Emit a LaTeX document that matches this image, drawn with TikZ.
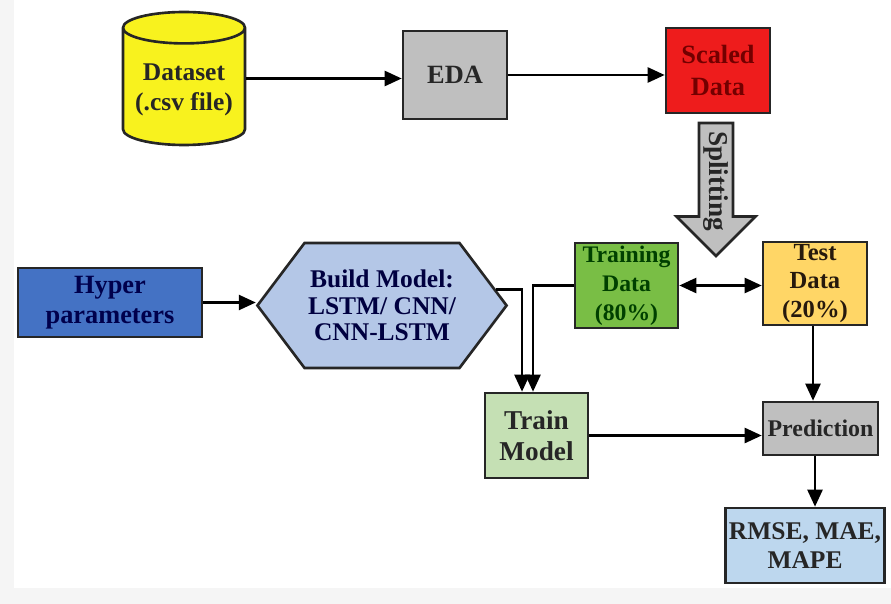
\documentclass[tikz,border=0pt]{standalone}
\usepackage{fontspec}
\setmainfont{Liberation Serif}
\usepackage{tikz}
\usetikzlibrary{arrows.meta,positioning,shapes.geometric,shapes.arrows,shapes.symbols}

\definecolor{dsyellow}{HTML}{F8F21E}
\definecolor{edagray}{HTML}{BFBFBF}
\definecolor{scalered}{HTML}{EE1C1C}
\definecolor{traingreen}{HTML}{79BE45}
\definecolor{testorange}{HTML}{FFD666}
\definecolor{hyperblue}{HTML}{4472C4}
\definecolor{buildblue}{HTML}{B4C7E7}
\definecolor{modelgreen}{HTML}{C5E0B4}
\definecolor{metricblue}{HTML}{BDD7EE}

\tikzset{
  box/.style={draw=black!85, line width=1.5pt, align=center, inner sep=2pt,
    font=\bfseries\fontsize{14.5}{17}\selectfont, text=black!85},
  flow/.style={line width=1.4pt, -{Triangle[length=3.4mm,width=3mm]}},
}

\begin{document}
\begin{tikzpicture}[x=0.02cm,y=-0.02cm]
	  % Frame of the picture
	  \useasboundingbox (0,0) rectangle (891,604);
	  \fill [black!4] (0,0) rectangle (891,604);
	  \fill [white] (14,0) rectangle (891,588);
	  % Top row
	  \node [box, cylinder, shape border rotate=90, aspect=0.3, fill=dsyellow,
	      minimum width=2.44cm, minimum height=2.66cm, anchor=shape center] (data) at (184,78.5)
	      {Dataset\\(.csv file)};
	  \node [box, fill=edagray, minimum width=2.08cm, minimum height=1.76cm,
	      font=\bfseries\fontsize{15}{18}\selectfont] (eda) at (455,75) {EDA};
	  \node [box, fill=scalered, minimum width=2.08cm, minimum height=1.70cm,
	      text=red!45!black, font=\bfseries\fontsize{15}{18}\selectfont]
	      (scaled) at (718,70.5) {Scaled\\Data};
	  % Splitting arrow
	  \node [box, single arrow, rotate=-90, fill=edagray, single arrow head extend=0.41cm,
	      minimum width=1.58cm, minimum height=2.66cm, inner sep=1pt,
	      single arrow head indent=0pt, font=\bfseries\fontsize{15.5}{18}\selectfont]
	      (split) at (716,181) {Splitting};
	  % Middle row
	  \node [box, fill=traingreen, minimum width=2.06cm, minimum height=1.70cm,
	      text=green!25!black, inner sep=0pt, font=\bfseries\fontsize{13.5}{16.5}\selectfont]
	      (training) at (626.5,285.5) {Training\\Data\\(80\%)};
	  \node [box, fill=testorange, minimum width=2.08cm, minimum height=1.66cm,
	      text=black!80!brown, inner sep=0pt, font=\bfseries\fontsize{14}{16}\selectfont]
	      (test) at (815,283.5) {Test\\Data\\(20\%)};
	  \node [box, fill=hyperblue, minimum width=3.68cm, minimum height=1.38cm,
	      text=blue!30!black, font=\bfseries\fontsize{15}{17}\selectfont]
	      (hyper) at (110,302.5) {Hyper\\parameters};
	  \node [box, signal, signal to=east and west, signal pointer angle=106,
	      fill=buildblue, minimum width=4.80cm, minimum height=2.50cm,
	      text=blue!25!black, font=\bfseries\fontsize{14.5}{15}\selectfont]
	      (build) at (382,305.5) {Build Model:\\LSTM/ CNN/\\CNN-LSTM};
	  % Bottom row
	  \node [box, fill=modelgreen, minimum width=2.06cm, minimum height=1.70cm,
	      font=\bfseries\fontsize{15.5}{18}\selectfont] (train) at (536.5,435.5) {Train\\Model};
	  \node [box, fill=edagray, minimum width=2.30cm, minimum height=1.06cm,
	      font=\bfseries\fontsize{13.6}{16}\selectfont] (pred) at (820.5,428.5) {Prediction};
	  \node [box, fill=metricblue, minimum width=3.12cm, minimum height=1.50cm,
	      font=\bfseries\fontsize{14.5}{17}\selectfont] (metrics) at (805,545.5) {RMSE, MAE,\\MAPE};
	  % Connectors
	  \draw [flow] (data.shape center -| data.east) -- (data.shape center -| eda.west);
	  \draw [flow] (eda) -- (eda -| scaled.west);
	  \draw [flow] (hyper) -- (hyper -| build.west);
	  \draw [flow, {Triangle[length=3.4mm,width=3mm]}-{Triangle[length=3.4mm,width=3mm]}]
	      (training.east) -- (training.east -| test.west);
	  \draw [flow] (build.8) -| ([xshift=-0.29cm]train.north);
	  \draw [flow] (training.west) -| ([xshift=-0.07cm]train.north);
	  \draw [flow] (train.east) -- (train.east -| pred.west);
	  \draw [flow] ([xshift=-0.04cm]test.south) -- ([xshift=-0.04cm]test.south |- pred.north);
	  \draw [flow] (pred.south -| test.south) -- (metrics.north -| test.south);
\end{tikzpicture}
\end{document}
